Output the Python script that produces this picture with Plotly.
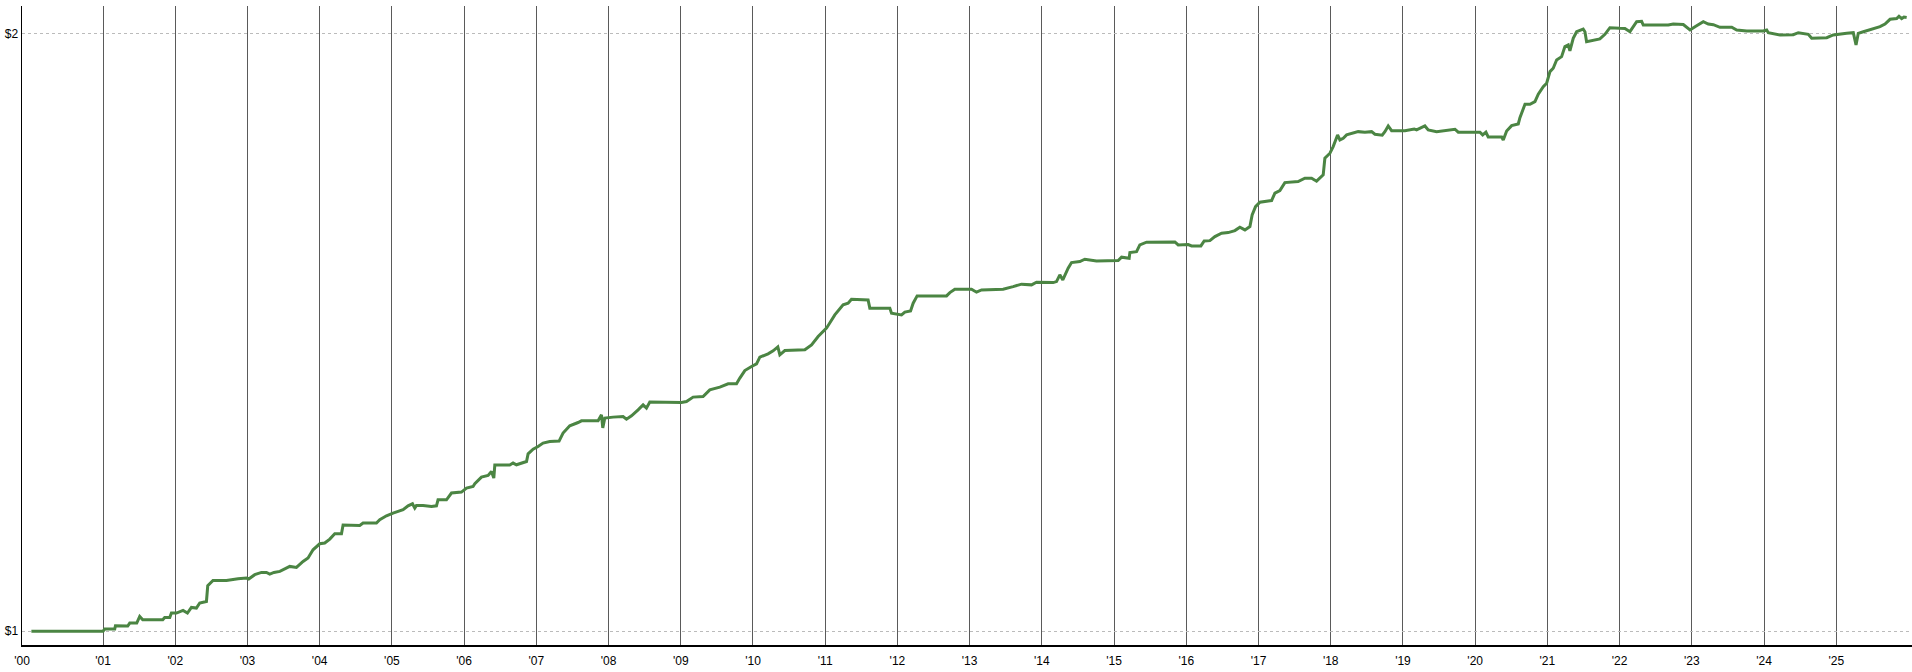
import math
import plotly.graph_objects as go

# ---- data (decimal year, growth of $1) ----
years_a = [2000.008, 2001.000, 2001.024, 2001.162, 2001.172, 2001.342, 2001.370, 2001.467,
           2001.508, 2001.550, 2001.827, 2001.854, 2001.924, 2001.947, 2002.017, 2002.108,
           2002.169, 2002.224, 2002.293, 2002.339, 2002.432, 2002.450, 2002.523, 2002.709,
           2002.870, 2002.986, 2003.018, 2003.101, 2003.194, 2003.263, 2003.309, 2003.367]
values_a = [1.0000, 1.0000, 1.0026, 1.0026, 1.0064, 1.0060, 1.0095, 1.0095,
            1.0173, 1.0134, 1.0134, 1.0161, 1.0161, 1.0213, 1.0213, 1.0244,
            1.0213, 1.0280, 1.0272, 1.0332, 1.0351, 1.0541, 1.0606, 1.0606,
            1.0627, 1.0636, 1.0623, 1.0677, 1.0705, 1.0705, 1.0685, 1.0705]

years_b = [2003.449, 2003.586, 2003.678, 2003.770, 2003.839, 2003.908, 2004.001, 2004.070,
           2004.140, 2004.209, 2004.302, 2004.324, 2004.555, 2004.601, 2004.786, 2004.832,
           2004.925, 2005.016, 2005.155, 2005.224, 2005.285, 2005.317, 2005.340, 2005.432,
           2005.548, 2005.617, 2005.639, 2005.756, 2005.825, 2005.963, 2006.033, 2006.124,
           2006.148, 2006.240, 2006.332, 2006.379, 2006.411, 2006.425, 2006.632, 2006.678,
           2006.725, 2006.864, 2006.886, 2006.955, 2007.024, 2007.093, 2007.186, 2007.315]
values_b = [1.0718, 1.0780, 1.0767, 1.0842, 1.0885, 1.0990, 1.1067, 1.1076,
            1.1127, 1.1196, 1.1196, 1.1309, 1.1304, 1.1336, 1.1336, 1.1379,
            1.1432, 1.1468, 1.1512, 1.1565, 1.1592, 1.1534, 1.1569, 1.1569,
            1.1556, 1.1565, 1.1646, 1.1646, 1.1737, 1.1750, 1.1805, 1.1827,
            1.1864, 1.1956, 1.1978, 1.2034, 1.1942, 1.2124, 1.2124, 1.2152,
            1.2128, 1.2174, 1.2283, 1.2350, 1.2388, 1.2437, 1.2460, 1.2466]

years_c = [2007.370, 2007.463, 2007.578, 2007.625, 2007.855, 2007.902, 2007.920, 2007.948,
           2008.063, 2008.201, 2008.248, 2008.318, 2008.409, 2008.478, 2008.525, 2008.571,
           2009.010, 2009.079, 2009.171, 2009.309, 2009.402, 2009.541, 2009.656, 2009.772,
           2009.818, 2009.887, 2009.980, 2010.049, 2010.095, 2010.209, 2010.279, 2010.344,
           2010.372, 2010.441, 2010.718, 2010.811, 2010.902, 2011.018, 2011.133, 2011.248]
values_c = [1.2582, 1.2689, 1.2737, 1.2762, 1.2762, 1.2851, 1.2659, 1.2802,
            1.2817, 1.2826, 1.2787, 1.2837, 1.2926, 1.3001, 1.2951, 1.3042,
            1.3036, 1.3051, 1.3118, 1.3127, 1.3229, 1.3271, 1.3321, 1.3321,
            1.3410, 1.3528, 1.3591, 1.3634, 1.3740, 1.3793, 1.3841, 1.3905,
            1.3777, 1.3845, 1.3857, 1.3937, 1.4072, 1.4209, 1.4430, 1.4598]

years_d = [2011.317, 2011.364, 2011.594, 2011.618, 2011.895, 2011.918, 2012.057, 2012.103,
           2012.182, 2012.218, 2012.273, 2012.680, 2012.726, 2012.795, 2013.026, 2013.095,
           2013.165, 2013.464, 2013.602, 2013.719, 2013.857, 2013.926, 2014.156, 2014.203,
           2014.249, 2014.290, 2014.364, 2014.411, 2014.526, 2014.595, 2014.757, 2014.896,
           2015.057, 2015.104, 2015.209]
values_d = [1.4627, 1.4695, 1.4683, 1.4543, 1.4543, 1.4459, 1.4430, 1.4476,
            1.4497, 1.4627, 1.4751, 1.4751, 1.4808, 1.4867, 1.4867, 1.4815,
            1.4854, 1.4867, 1.4911, 1.4953, 1.4941, 1.4987, 1.4980, 1.4998,
            1.5115, 1.5027, 1.5233, 1.5332, 1.5350, 1.5392, 1.5362, 1.5368,
            1.5368, 1.5428, 1.5410]

years_e = [2015.219, 2015.311, 2015.357, 2015.450, 2015.842, 2015.888, 2016.026, 2016.073,
           2016.202, 2016.248, 2016.327, 2016.396, 2016.489, 2016.580, 2016.673, 2016.742,
           2016.812, 2016.881, 2016.912, 2016.959, 2017.019, 2017.181, 2017.227, 2017.296,
           2017.365, 2017.549, 2017.642, 2017.735, 2017.804, 2017.896, 2017.919, 2017.989,
           2018.034, 2018.095, 2018.127, 2018.173, 2018.220, 2018.289, 2018.380, 2018.473,
           2018.566, 2018.612, 2018.713, 2018.750, 2018.796, 2018.843, 2019.027, 2019.156]
values_e = [1.5511, 1.5528, 1.5649, 1.5698, 1.5704, 1.5649, 1.5655, 1.5631,
            1.5631, 1.5722, 1.5727, 1.5800, 1.5863, 1.5874, 1.5911, 1.5974,
            1.5924, 1.5985, 1.6203, 1.6360, 1.6443, 1.6474, 1.6616, 1.6666,
            1.6821, 1.6841, 1.6907, 1.6907, 1.6849, 1.6972, 1.7303, 1.7404,
            1.7538, 1.7777, 1.7674, 1.7709, 1.7777, 1.7812, 1.7845, 1.7833,
            1.7845, 1.7792, 1.7771, 1.7845, 1.7963, 1.7866, 1.7866, 1.7901]

years_f = [2019.189, 2019.304, 2019.350, 2019.466, 2019.605, 2019.720, 2019.766, 2020.066,
           2020.104, 2020.149, 2020.181, 2020.367, 2020.389, 2020.436, 2020.505, 2020.597,
           2020.620, 2020.690, 2020.759, 2020.828, 2020.874, 2020.943, 2020.990, 2021.036,
           2021.081, 2021.128, 2021.197, 2021.243, 2021.289, 2021.312, 2021.358, 2021.405,
           2021.496, 2021.520, 2021.543, 2021.727, 2021.797, 2021.866, 2022.005, 2022.074,
           2022.143, 2022.236, 2022.305, 2022.328, 2022.674, 2022.743, 2022.882, 2022.975,
           2023.044, 2023.159, 2023.228, 2023.298, 2023.390, 2023.553, 2023.622, 2023.760,
           2023.990, 2024.037, 2024.059, 2024.221, 2024.405, 2024.475, 2024.613, 2024.660,
           2024.868, 2024.959, 2025.145, 2025.236, 2025.274, 2025.305, 2025.375, 2025.513,
           2025.606, 2025.675, 2025.745, 2025.837, 2025.869, 2025.906, 2025.938, 2025.975]
values_f = [1.7880, 1.7963, 1.7880, 1.7845, 1.7880, 1.7895, 1.7833, 1.7833,
            1.7777, 1.7833, 1.7736, 1.7736, 1.7674, 1.7859, 1.7970, 1.8005,
            1.8137, 1.8421, 1.8421, 1.8477, 1.8636, 1.8801, 1.8875, 1.9131,
            1.9206, 1.9392, 1.9466, 1.9693, 1.9731, 1.9595, 1.9885, 2.0037,
            2.0100, 2.0037, 1.9807, 1.9869, 1.9977, 2.0130, 2.0116, 2.0112,
            2.0037, 2.0271, 2.0280, 2.0193, 2.0193, 2.0216, 2.0205, 2.0077,
            2.0154, 2.0271, 2.0216, 2.0200, 2.0140, 2.0140, 2.0077, 2.0054,
            2.0054, 2.0077, 2.0014, 1.9961, 1.9968, 2.0014, 1.9977, 1.9885,
            1.9899, 1.9961, 2.0000, 2.0014, 1.9731, 2.0000, 2.0037, 2.0100,
            2.0154, 2.0216, 2.0327, 2.0344, 2.0398, 2.0344, 2.0382, 2.0371]

x_start, x_end = 1999.878, 2026.049
tick_years = [x_start] + list(range(2001, 2026))
tick_labels = ["'00"] + ["'%02d" % (y % 100) for y in range(2001, 2026)]
y_ticks = [1, 2]
y_labels = ["$1", "$2"]
y_min, y_max = 0.98414, 2.0643

years = years_a + years_b + years_c + years_d + years_e + years_f
values = values_a + values_b + values_c + values_d + values_e + values_f
assert len(years) == len(values)

fig = go.Figure()
fig.add_trace(go.Scatter(x=years, y=values, mode="lines",
                         line=dict(color="#4b8543", width=3), hoverinfo="skip"))

font = dict(family="Liberation Sans, Arial, sans-serif", size=12, color="#000000")
fig.update_layout(
    width=1912, height=672,
    margin=dict(l=22, r=0, t=6, b=27, pad=0),
    paper_bgcolor="white", plot_bgcolor="white",
    showlegend=False, font=font, hovermode=False,
    xaxis=dict(range=[x_start, x_end], tickmode="array", tickvals=tick_years,
               ticktext=tick_labels, showgrid=True, gridcolor="#5a5a5a", gridwidth=1,
               showline=True, linecolor="#000000", linewidth=1.5, ticks="",
               ticklabelstandoff=4,
               zeroline=False, automargin=False, tickfont=font),
    yaxis=dict(type="log", range=[math.log10(y_min), math.log10(y_max)],
               tickmode="array", tickvals=y_ticks, ticktext=y_labels,
               showgrid=True, gridcolor="#bbbbbb", gridwidth=1, griddash="dot",
               showline=True, linecolor="#000000", linewidth=1.5, ticks="",
               zeroline=False, automargin=False, tickfont=font),
)
fig.write_html("out.html", config={"displayModeBar": False, "staticPlot": True},
               post_script="document.body.style.margin='0';document.body.style.overflow='hidden';")
